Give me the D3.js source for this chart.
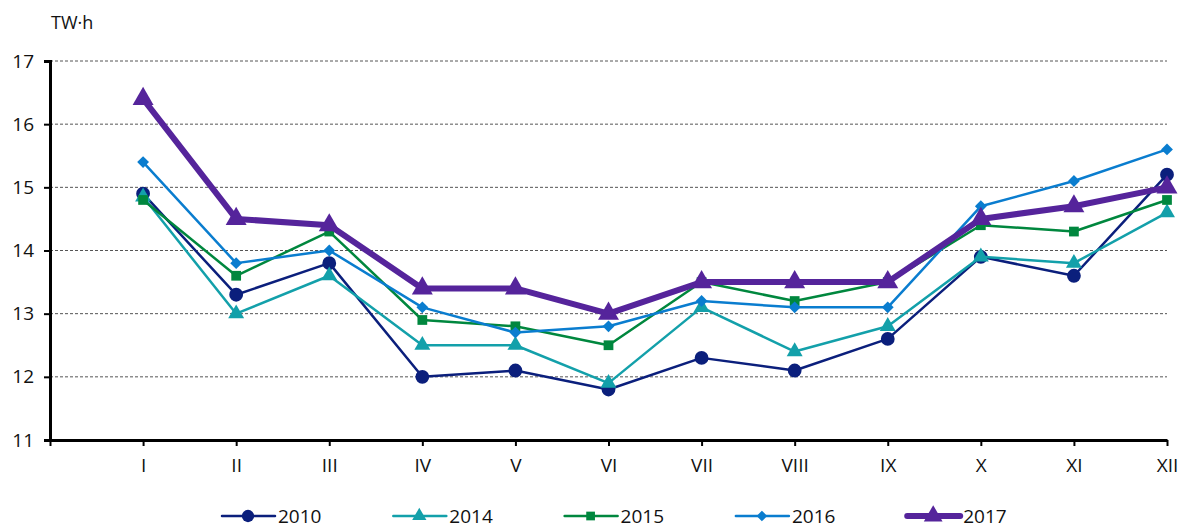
<!DOCTYPE html>
<html>
<head>
<meta charset="utf-8">
<script src="https://cdn.jsdelivr.net/npm/d3@7"></script>
<style>
  body { margin: 0; background: #fff; }
  text { font-family: "Open Sans", "Noto Sans", sans-serif; fill: #111; }
</style>
</head>
<body>
<div id="chart"></div>
<script>
// data
var months = ["I", "II", "III", "IV", "V", "VI", "VII", "VIII", "IX", "X", "XI", "XII"];
var yTicks = [11, 12, 13, 14, 15, 16, 17];
var v2010 = [14.9, 13.3, 13.8, 12.0, 12.1, 11.8, 12.3, 12.1, 12.6, 13.9, 13.6, 15.2];
var v2014 = [14.85, 13.0, 13.6, 12.5, 12.5, 11.9, 13.1, 12.4, 12.8, 13.9, 13.8, 14.6];
var v2015 = [14.8, 13.6, 14.3, 12.9, 12.8, 12.5, 13.5, 13.2, 13.5, 14.4, 14.3, 14.8];
var v2016 = [15.4, 13.8, 14.0, 13.1, 12.7, 12.8, 13.2, 13.1, 13.1, 14.7, 15.1, 15.6];
var v2017 = [16.4, 14.5, 14.4, 13.4, 13.4, 13.0, 13.5, 13.5, 13.5, 14.5, 14.7, 15.0];

// rot = rotate the symbol (square -> diamond)
var series = [
  { name: "2010", values: v2010, color: "#0b1f7c", width: 2.5, symbol: d3.symbolCircle, size: 150, rot: 0 },
  { name: "2014", values: v2014, color: "#13a0aa", width: 2.5, symbol: d3.symbolTriangle, size: 110, rot: 0 },
  { name: "2015", values: v2015, color: "#00873e", width: 2.5, symbol: d3.symbolSquare, size: 95, rot: 0 },
  { name: "2016", values: v2016, color: "#0a7dcf", width: 2.5, symbol: d3.symbolSquare, size: 70, rot: 45 },
  { name: "2017", values: v2017, color: "#55249b", width: 6, symbol: d3.symbolTriangle, size: 190, rot: 0 }
];

var W = 1181, H = 529;
var mLeft = 50, mRight = 1167, mTop = 61, mBottom = 440;

var svg = d3.select("#chart").append("svg")
  .attr("width", W)
  .attr("height", H);

// first slot is empty so I sits one step away from the y axis
var x = d3.scalePoint()
  .domain([""].concat(months))
  .range([mLeft, mRight]);

var y = d3.scaleLinear()
  .domain([11, 17])
  .range([mBottom, mTop]);

// grid lines
svg.append("g")
  .selectAll("line")
  .data(yTicks.filter(function (d) { return d > 11; }))
  .enter()
  .append("line")
  .attr("x1", mLeft)
  .attr("x2", mRight)
  .attr("y1", function (d) { return y(d); })
  .attr("y2", function (d) { return y(d); })
  .attr("stroke", "#555")
  .attr("stroke-width", 1)
  .attr("stroke-dasharray", "3,2");

// y axis
var yAxis = svg.append("g")
  .attr("transform", "translate(" + mLeft + ",0)")
  .call(d3.axisLeft(y).tickValues(yTicks).tickSize(6).tickPadding(10).tickFormat(d3.format("d")));
yAxis.select(".domain").attr("stroke", "#000").attr("stroke-width", 3);
yAxis.selectAll(".tick line").attr("stroke", "#000").attr("stroke-width", 2);
yAxis.selectAll("text").style("font-size", "19px").attr("fill", "#111");

// x axis
var xAxis = svg.append("g")
  .attr("transform", "translate(0," + mBottom + ")")
  .call(d3.axisBottom(x).tickSize(6).tickPadding(13).tickSizeOuter(0));
xAxis.select(".domain").attr("stroke", "#000").attr("stroke-width", 3);
xAxis.selectAll(".tick line").attr("stroke", "#000").attr("stroke-width", 2);
xAxis.selectAll("text").style("font-size", "19px").attr("fill", "#111");

// unit label
svg.append("text")
  .attr("x", 51)
  .attr("y", 29)
  .style("font-size", "18px")
  .text("TW·h");

var line = d3.line()
  .x(function (d, i) { return x(months[i]); })
  .y(function (d) { return y(d); });

series.forEach(function (s) {
  var g = svg.append("g");
  g.append("path")
    .attr("d", line(s.values))
    .attr("fill", "none")
    .attr("stroke", s.color)
    .attr("stroke-width", s.width)
    .attr("stroke-linejoin", "round");
  g.selectAll("path.mark")
    .data(s.values)
    .enter()
    .append("path")
    .attr("class", "mark")
    .attr("d", d3.symbol().type(s.symbol).size(s.size))
    .attr("transform", function (d, i) {
      return "translate(" + x(months[i]) + "," + y(d) + ") rotate(" + s.rot + ")";
    })
    .attr("fill", s.color);
});

// legend
var legend = svg.append("g")
  .attr("transform", "translate(222,516)");
var item = legend.selectAll("g")
  .data(series)
  .enter()
  .append("g")
  .attr("transform", function (d, i) { return "translate(" + (i * 171.3) + ",0)"; });
item.append("line")
  .attr("x1", 0).attr("x2", 53)
  .attr("stroke", function (d) { return d.color; })
  .attr("stroke-width", function (d) { return d.width; })
  .attr("stroke-linecap", "round");
item.append("path")
  .attr("d", function (d) { return d3.symbol().type(d.symbol).size(d.size * 0.8)(); })
  .attr("transform", function (d) { return "translate(26,0) rotate(" + d.rot + ")"; })
  .attr("fill", function (d) { return d.color; });
item.append("text")
  .attr("x", 56)
  .attr("y", 7)
  .style("font-size", "19px")
  .text(function (d) { return d.name; });
</script>
</body>
</html>
